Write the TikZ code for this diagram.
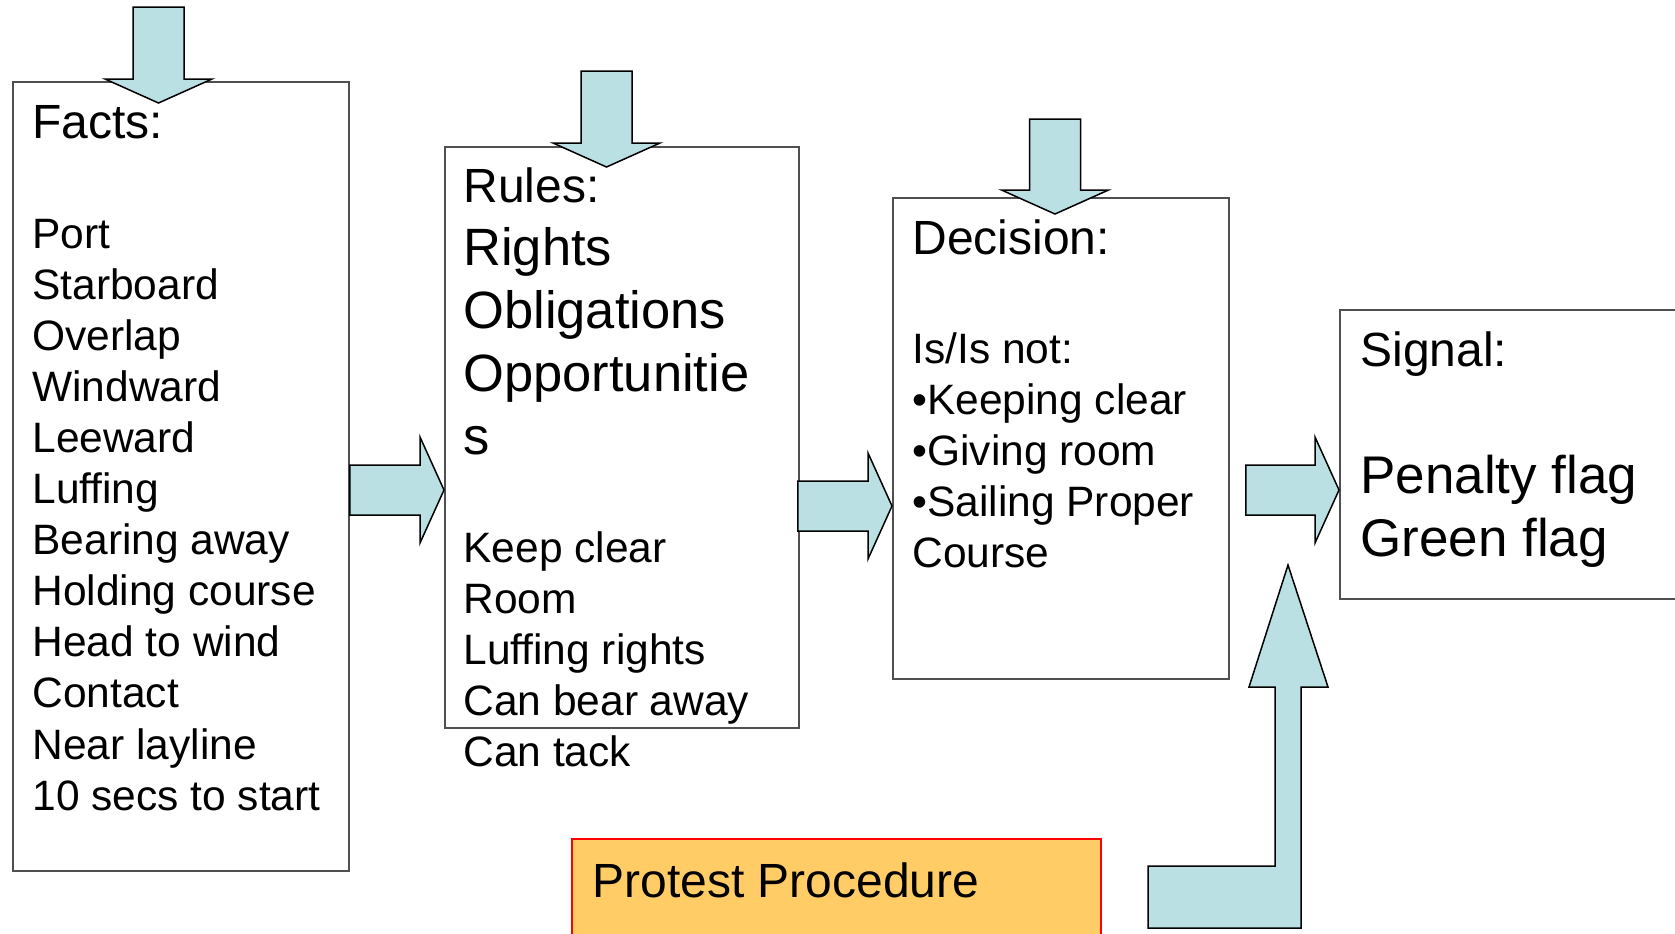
\documentclass[tikz,border=0pt]{standalone}
\usepackage{fontspec}
\setmainfont{Liberation Sans}
\usetikzlibrary{calc}
\definecolor{arrowblue}{RGB}{187,224,227}
\definecolor{procfill}{RGB}{255,204,102}
\definecolor{edgegray}{RGB}{80,80,80}
\newcommand\rblock[2]{\draw[blk] let \p1=(#1), \p2=(#2) in
  (\x1,\y1+12.5pt) -- (\x2-12pt,\y1+12.5pt) -- (\x2-12pt,\y1+26.5pt) -- (\x2,\y1)
  -- (\x2-12pt,\y1-26.5pt) -- (\x2-12pt,\y1-12.5pt) -- (\x1,\y1-12.5pt) -- cycle;}
\newcommand\dblock[2]{\draw[blk] let \p1=(#1), \p2=(#2) in
  (\x1-12.75pt,\y1) -- (\x1+12.75pt,\y1) -- (\x1+12.75pt,\y2+12pt) -- (\x1+26.75pt,\y2+12pt)
  -- (\x1,\y2) -- (\x1-26.75pt,\y2+12pt) -- (\x1-12.75pt,\y2+12pt) -- cycle;}
\begin{document}
\begin{tikzpicture}[x=0.5pt,y=-0.5pt,
  panel/.style={draw=edgegray,line width=0.9pt,fill=white,rectangle,anchor=north west,inner sep=0pt},
  blk/.style={draw=black,line width=0.75pt,fill=arrowblue,line join=miter},
  hdr/.style={font=\fontsize{24pt}{28pt}\selectfont,anchor=base west,inner sep=0pt},
  bdy/.style={font=\fontsize{21.25pt}{25pt}\selectfont,anchor=base west,inner sep=0pt},
  big/.style={font=\fontsize{26.25pt}{31pt}\selectfont,anchor=base west,inner sep=0pt}]
\useasboundingbox (0,0) rectangle (1675,933);
\fill[white] (0,0) rectangle (1675,933);
\clip (0,0) rectangle (1675,933);

% boxes
\node[panel,minimum width=168pt,minimum height=394.5pt] (facts) at (12,81) {};
\node[panel,minimum width=177pt,minimum height=290.5pt] (rules) at (444,146) {};
\node[panel,minimum width=168pt,minimum height=240.5pt] (decision) at (892,197) {};
\node[panel,minimum width=200pt,minimum height=144.5pt] (signal) at (1339,309) {};
\node[draw=red,line width=0.9pt,fill=procfill,rectangle,anchor=north west,inner sep=0pt,
      minimum width=264.5pt,minimum height=80pt] (protest) at (571,838) {};

% Facts text
\node[hdr] (facthead) at (32,138) {Facts:};
\foreach \t [count=\i from 0] in {Port,Starboard,Overlap,Windward,Leeward,Luffing,Bearing away,
  Holding course,Head to wind,Contact,Near layline,10 secs to start}
  \node[bdy] (fact\i) at (32,{248+51.1*\i}) {\t};

% Rules text
\node[hdr] (rulehead) at (463,202) {Rules:};
\foreach \t [count=\i from 0] in {Rights,Obligations,Opportunitie,s}
  \node[big] (rulebig\i) at (463,{265+63.3*\i}) {\t};
\foreach \t [count=\i from 0] in {Keep clear,Room,Luffing rights,Can bear away,Can tack}
  \node[bdy] (rule\i) at (463,{562+51.1*\i}) {\t};

% Decision text
\node[hdr] (dechead) at (912,254) {Decision:};
\foreach \t [count=\i from 0] in {Is/Is not:,\textbullet Keeping clear,\textbullet Giving room,
  \textbullet Sailing Proper,Course}
  \node[bdy] (dec\i) at (912,{363+51.2*\i}) {\t};

% Signal text
\node[hdr] (sighead) at (1360,366) {Signal:};
\node[big,font=\fontsize{26.5pt}{31pt}\selectfont] (sig1) at (1360,493) {Penalty flag};
\node[big,font=\fontsize{26.5pt}{31pt}\selectfont] (sig2) at (1360,556) {Green flag};

% Protest text
\node[hdr] (protesttext) at (592,897) {Protest Procedure};

% block arrows between boxes
\coordinate (r1s) at (facts.east |- 0,490);
\coordinate (r1t) at (rules.west |- 0,490);
\coordinate (r2s) at ($(rules.east |- 0,506)+(-2,0)$);
\coordinate (r2t) at (decision.west |- 0,506);
\coordinate (r3s) at ($(decision.east |- 0,490)+(16,0)$);
\coordinate (r3t) at (signal.west |- 0,490);
\rblock{r1s}{r1t}
\rblock{r2s}{r2t}
\rblock{r3s}{r3t}

% incoming arrows from above
\coordinate (d1s) at (158.5,7);   \coordinate (d1t) at (158.5,103);
\coordinate (d2s) at (606.5,71);  \coordinate (d2t) at (606.5,167);
\coordinate (d3s) at (1055,119);  \coordinate (d3t) at (1055,214);
\dblock{d1s}{d1t}
\dblock{d2s}{d2t}
\dblock{d3s}{d3t}

% bent arrow from the protest procedure
\draw[blk] (1148,866) -- (1275,866) -- (1275,687) -- (1249,687) -- (1288,565)
  -- (1328,687) -- (1301,687) -- (1301,928) -- (1148,928) -- cycle;
\end{tikzpicture}
\end{document}
